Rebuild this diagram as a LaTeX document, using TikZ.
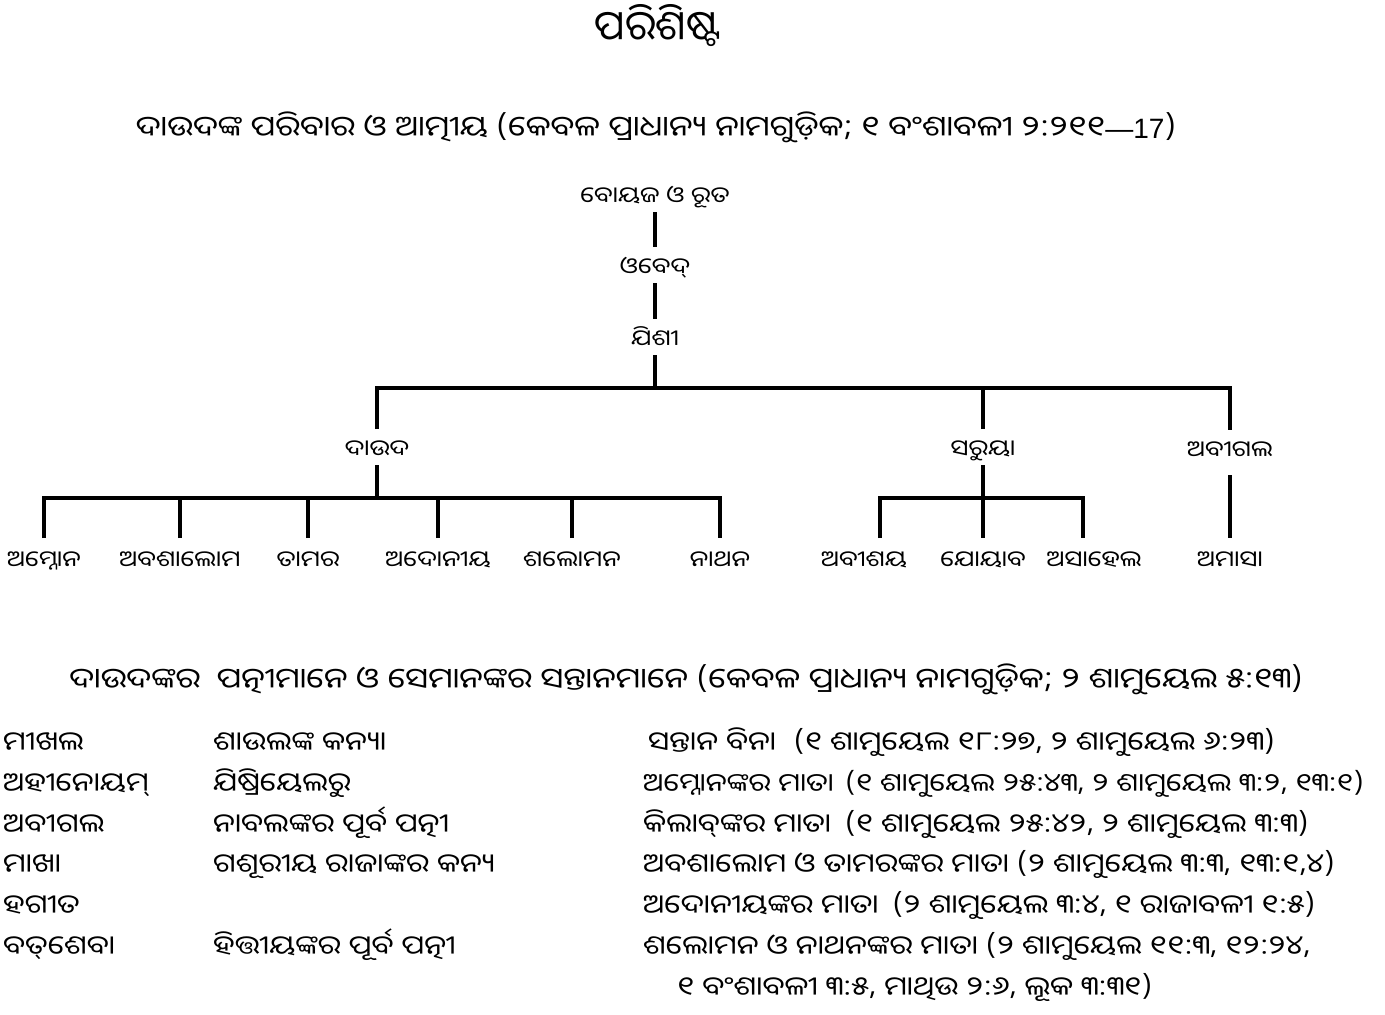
\documentclass[tikz,border=0pt]{standalone}
\usepackage{fontspec}
\newfontfamily\odiafont[Script=Oriya, FakeStretch=1.18]{Noto Sans Oriya UI}
\newfontfamily\titlefont[Script=Oriya]{Noto Sans Oriya UI}
\newfontfamily\latinfont{Liberation Sans}
\usetikzlibrary{positioning}

\tikzset{
  person/.style={inner sep=0pt, outer sep=0pt, text height=28pt, text depth=8pt,
    anchor=base, font=\odiafont\fontsize{22}{26}\selectfont},
  kid/.style={person, text height=30pt},
  cell/.style={inner sep=0pt, anchor=base west, font=\odiafont\fontsize{26}{30}\selectfont},
  heading/.style={inner sep=0pt, anchor=base, font=\odiafont\fontsize{28}{32}\selectfont},
  link/.style={line width=3.2pt}
}

\begin{document}
\begin{tikzpicture}[x=1pt, y=-1pt]
\useasboundingbox (0,0) rectangle (1385,1015);

% headings
\node[heading, font=\titlefont\fontsize{41}{46}\selectfont] (title) at (658,43) {ପରିଶିଷ୍ଟ};
\node[heading] (treehead) at (656,138) {ଦାଉଦଙ୍କ ପରିବାର ଓ ଆତ୍ମୀୟ (କେବଳ ପ୍ରାଧାନ୍ୟ ନାମଗୁଡ଼ିକ; ୧ ବଂଶାବଳୀ ୨:୨୧୧{\latinfont —17})};

% family tree
\node[person] (boaz) at (655,204) {ବୋୟଜ ଓ ରୂତ};
\node[person] (obed) at (655,275) {ଓବେଦ୍};
\node[person] (jesse) at (655,347) {ଯିଶୀ};
\coordinate (jbar) at (655,388);

\node[person] (david) at (377,457) {ଦାଉଦ};
\node[person] (zeruiah) at (983,457) {ସରୁୟା};
\node[person, text depth=17pt] (abigail) at (1230,458) {ଅବୀଗଲ};
\coordinate (dbar) at (377,498);
\coordinate (zbar) at (983,498);

\node[kid] (amnon) at (44,568) {ଅମ୍ନୋନ};
\node[kid] (absalom) at (180,568) {ଅବଶାଲୋମ};
\node[kid] (tamar) at (308,568) {ତାମର};
\node[kid] (adonijah) at (438,568) {ଅଦୋନୀୟ};
\node[kid] (solomon) at (572,568) {ଶଲୋମନ};
\node[kid] (nathan) at (720,568) {ନାଥନ};
\node[kid] (abishai) at (864,568) {ଅବୀଶୟ};
\node[kid] (joab) at (983,568) {ଯୋୟାବ};
\node[kid] (asahel) at (1094,568) {ଅସାହେଲ};
\node[kid] (amasa) at (1230,568) {ଅମାସା};

\draw[link] (boaz) -- (obed);
\draw[link] (obed) -- (jesse);
\draw[link] (jesse) -- (jbar);
\draw[link] (david) |- (jbar) -| (abigail);
\draw[link] (zeruiah) -- (zeruiah |- jbar);

\draw[link] (david) -- (dbar);
\draw[link] (amnon) |- (dbar) -| (nathan);
\draw[link] (absalom) -- (absalom |- dbar);
\draw[link] (tamar) -- (tamar |- dbar);
\draw[link] (adonijah) -- (adonijah |- dbar);
\draw[link] (solomon) -- (solomon |- dbar);

\draw[link] (zeruiah) -- (joab);
\draw[link] ([xshift=16pt]abishai.north) |- (zbar) -| ([xshift=-11pt]asahel.north);
\draw[link] (abigail) -- (amasa);

% wives table
\node[heading] (wifehead) at (686,690) {ଦାଉଦଙ୍କର\hspace{8pt} ପତ୍ନୀମାନେ ଓ ସେମାନଙ୍କର ସନ୍ତାନମାନେ (କେବଳ ପ୍ରାଧାନ୍ୟ ନାମଗୁଡ଼ିକ; ୨ ଶାମୁୟେଲ ୫:୧୩)};

\node[cell] (michal) at (3,752) {ମୀଖଲ};
\node[cell] (michalnote) at (213,752) {ଶାଉଲଙ୍କ କନ୍ୟା};
\node[cell] (michalref) at (648,752) {ସନ୍ତାନ ବିନା\hspace{10pt} (୧ ଶାମୁୟେଲ ୧୮:୨୭, ୨ ଶାମୁୟେଲ ୬:୨୩)};

\node[cell] (ahinoam) at (3,793) {ଅହୀନୋୟମ୍};
\node[cell] (ahinoamnote) at (213,793) {ଯିଷ୍ରିୟେଲରୁ};
\node[cell, font=\odiafont\fontsize{25}{30}\selectfont] (ahinoamref) at (643,793) {ଅମ୍ନୋନଙ୍କର ମାତା\hspace{4pt} (୧ ଶାମୁୟେଲ ୨୫:୪୩, ୨ ଶାମୁୟେଲ ୩:୨, ୧୩:୧)};

\node[cell] (abigail2) at (3,834) {ଅବୀଗଲ};
\node[cell] (abigailnote) at (213,834) {ନାବଲଙ୍କର ପୂର୍ବ ପତ୍ନୀ};
\node[cell] (abigailref) at (643,834) {କିଲାବ୍^^^^200cଙ୍କର ମାତା\hspace{6pt} (୧ ଶାମୁୟେଲ ୨୫:୪୨, ୨ ଶାମୁୟେଲ ୩:୩)};

\node[cell] (maacah) at (3,874) {ମାଖା};
\node[cell] (maacahnote) at (213,874) {ଗଶୂରୀୟ ରାଜାଙ୍କର କନ୍ୟ};
\node[cell] (maacahref) at (643,874) {ଅବଶାଲୋମ ଓ ତାମରଙ୍କର ମାତା (୨ ଶାମୁୟେଲ ୩:୩, ୧୩:୧,୪)};

\node[cell] (haggith) at (3,915) {ହଗୀତ};
\node[cell] (haggithref) at (643,915) {ଅଦୋନୀୟଙ୍କର ମାତା\hspace{6pt} (୨ ଶାମୁୟେଲ ୩:୪, ୧ ରାଜାବଳୀ ୧:୫)};

\node[cell] (bathsheba) at (3,956) {ବତ୍^^^^200cଶେବା};
\node[cell] (bathshebanote) at (213,956) {ହିତ୍ତୀୟଙ୍କର ପୂର୍ବ ପତ୍ନୀ};
\node[cell] (bathshebaref) at (643,956) {ଶଲୋମନ ଓ ନାଥନଙ୍କର ମାତା (୨ ଶାମୁୟେଲ ୧୧:୩, ୧୨:୨୪,};
\node[cell] (bathshebaref2) at (677,997) {୧ ବଂଶାବଳୀ ୩:୫, ମାଥିଉ ୨:୬, ଲୂକ ୩:୩୧)};
\end{tikzpicture}
\end{document}
